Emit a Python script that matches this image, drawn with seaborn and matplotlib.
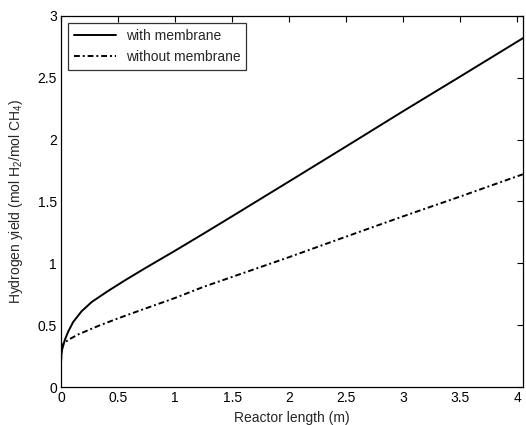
import matplotlib
matplotlib.use("Agg")
import matplotlib.pyplot as plt
import seaborn as sns
import pandas as pd

x_with = [0, 0.003, 0.009, 0.033, 0.062, 0.106, 0.18, 0.27, 0.415, 0.56, 0.74, 1.0, 1.25, 1.5, 2.0, 2.5, 3.0, 3.5, 4.05]
y_with = [0.2, 0.26, 0.30, 0.38, 0.446, 0.525, 0.612, 0.688, 0.778, 0.862, 0.962, 1.102, 1.24, 1.38, 1.662, 1.945, 2.23, 2.51, 2.82]
x_without = [0, 0.003, 0.02, 0.062, 0.15, 0.33, 0.5, 0.68, 1.0, 1.25, 1.5, 2.0, 2.5, 3.0, 3.5, 4.05]
y_without = [0.2, 0.30, 0.35, 0.38, 0.425, 0.495, 0.555, 0.615, 0.72, 0.81, 0.89, 1.05, 1.216, 1.38, 1.54, 1.72]
labels = ["with membrane", "without membrane"]
x_ticks = [0, 0.5, 1, 1.5, 2, 2.5, 3, 3.5, 4]
y_ticks = [0, 0.5, 1, 1.5, 2, 2.5, 3]

sns.set_style("white")
plt.rcParams['font.family'] = ['Liberation Sans', 'DejaVu Sans']
plt.rcParams['mathtext.fontset'] = 'custom'
plt.rcParams['mathtext.rm'] = 'Liberation Sans'
plt.rcParams['mathtext.it'] = 'Liberation Sans'

fig = plt.figure(figsize=(5.26, 4.25), dpi=100)
ax = fig.add_axes([0.116, 0.0894, 0.878, 0.873])

df1 = pd.DataFrame({"x": x_with, "y": y_with})
df2 = pd.DataFrame({"x": x_without, "y": y_without})
sns.lineplot(data=df1, x="x", y="y", ax=ax, color="black", lw=1.4,
             label=labels[0], sort=False)
sns.lineplot(data=df2, x="x", y="y", ax=ax, color="black", lw=1.4,
             linestyle=(0, (3, 1.5, 1, 1.5)), label=labels[1], sort=False)

ax.set_xlim(0, 4.05)
ax.set_ylim(0, 3)
ax.set_xticks(x_ticks)
ax.set_xticklabels([f"{t:g}" for t in x_ticks])
ax.set_yticks(y_ticks)
ax.set_yticklabels([f"{t:g}" for t in y_ticks])
ax.tick_params(direction="in", length=4, width=0.8, top=True, right=True,
               labelsize=10, pad=3, colors="black")
for s in ax.spines.values():
    s.set_visible(True)
    s.set_color("black")
    s.set_linewidth(0.9)
ax.set_xlabel("Reactor length (m)", fontsize=10, labelpad=4)
ax.set_ylabel("Hydrogen yield (mol H$_2$/mol CH$_4$)", fontsize=10, labelpad=9)

leg = ax.legend(loc="upper left", fontsize=10, frameon=True, fancybox=False,
                edgecolor="black", handlelength=3.0, borderpad=0.45,
                labelspacing=0.5, handletextpad=0.7, borderaxespad=0.5)
leg.get_frame().set_linewidth(0.9)

fig.savefig("out.png", dpi=100)
